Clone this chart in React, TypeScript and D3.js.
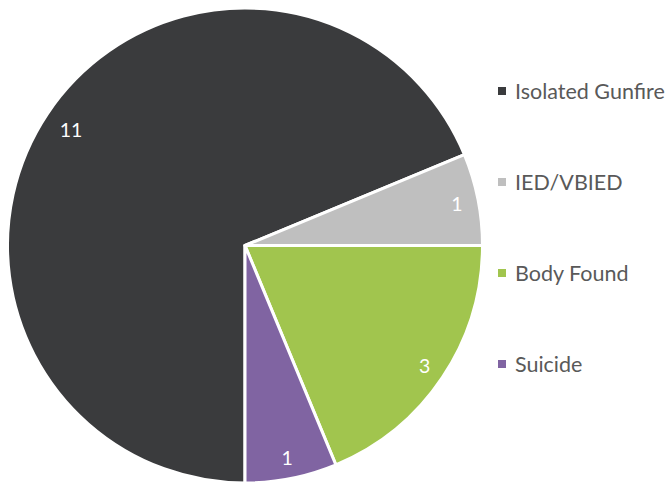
import React, { useEffect, useRef } from "react";
import * as d3 from "d3";

const categories = ["Isolated Gunfire", "IED/VBIED", "Body Found", "Suicide"];
const values = [11, 1, 3, 1];
const colors = ["#3a3b3d", "#bfbfbf", "#a1c54e", "#8064a2"];

const W = 672;
const H = 485;

export default function App() {
  const ref = useRef<SVGSVGElement>(null);
  useEffect(() => {
    const svg = d3.select(ref.current);
    svg.selectAll("*").remove();
    const cx = 245, cy = 245.5, r = 237.5;
    const data = categories.map((c, i) => ({ c, v: values[i], col: colors[i] }));
    const pie = d3
      .pie<any>()
      .sort(null)
      .value((d) => d.v)
      .startAngle(Math.PI)
      .endAngle(3 * Math.PI);
    const arcs = pie(data);
    const arc = d3.arc<any>().innerRadius(0).outerRadius(r);
    const g = svg.append("g").attr("transform", `translate(${cx},${cy})`);
    g.selectAll("path")
      .data(arcs)
      .enter()
      .append("path")
      .attr("d", arc as any)
      .attr("fill", (d: any) => d.data.col)
      .attr("stroke", "#ffffff")
      .attr("stroke-width", 3)
      .attr("stroke-linejoin", "round");
    g.selectAll("text.lbl")
      .data(arcs)
      .enter()
      .append("text")
      .attr("class", "lbl")
      .each(function (d: any) {
        const a = (d.startAngle + d.endAngle) / 2;
        const txt = String(d.data.v);
        const lr = r * 0.91 - (txt.length - 1) * 7;
        d3.select(this)
          .attr("x", Math.sin(a) * lr)
          .attr("y", -Math.cos(a) * lr)
          .text(txt);
      })
      .attr("text-anchor", "middle")
      .attr("dominant-baseline", "central")
      .attr("fill", "#ffffff")
      .attr("font-family", "Lato, 'Open Sans', sans-serif")
      .attr("font-size", 19.5);

    const ys = d3.scalePoint<string>().domain(categories).range([91, 364]);
    const lg = svg.append("g");
    categories.forEach((c, i) => {
      const y = ys(c)!;
      lg.append("rect")
        .attr("x", 498)
        .attr("y", y - 4)
        .attr("width", 8)
        .attr("height", 8)
        .attr("fill", colors[i]);
      lg.append("text")
        .attr("x", 515)
        .attr("y", y)
        .attr("dominant-baseline", "central")
        .attr("fill", "#595959")
        .attr("font-family", "Lato, 'Open Sans', sans-serif")
        .attr("font-size", 21.5)
        .text(c);
    });
  }, []);
  return (
    <svg
      ref={ref}
      width={W}
      height={H}
      style={{ position: "absolute", left: 0, top: 0, background: "#ffffff" }}
    />
  );
}
